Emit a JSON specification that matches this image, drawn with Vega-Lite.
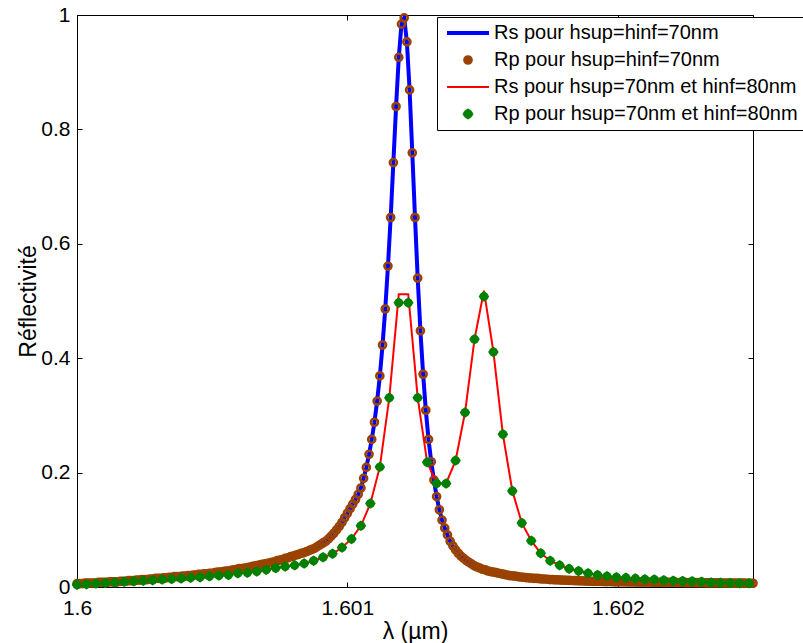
{
  "$schema": "https://vega.github.io/schema/vega-lite/v6.json",
  "width": 676,
  "height": 572,
  "autosize": {"type": "none"},
  "padding": {"left": 77, "top": 15, "right": 50, "bottom": 56},
  "background": "white",
  "config": {
    "view": {"stroke": "black", "strokeWidth": 1},
    "axis": {"grid": false, "labelFont": "Liberation Sans", "titleFont": "Liberation Sans", "labelColor": "black", "titleColor": "black", "domainColor": "black", "tickColor": "black", "titleFontWeight": "normal"},
    "legend": {"labelFont": "Liberation Sans", "labelColor": "black"}
  },
  "datasets": {
    "g1": [
      {"x":1.60000,"r":0.006},{"x":1.60001,"r":0.006},{"x":1.60002,"r":0.006},{"x":1.60003,"r":0.007},{"x":1.60004,"r":0.007},{"x":1.60005,"r":0.007},{"x":1.60006,"r":0.007},{"x":1.60007,"r":0.007},{"x":1.60008,"r":0.008},{"x":1.60009,"r":0.008},
      {"x":1.60010,"r":0.008},{"x":1.60011,"r":0.008},{"x":1.60012,"r":0.009},{"x":1.60013,"r":0.009},{"x":1.60014,"r":0.009},{"x":1.60015,"r":0.009},{"x":1.60016,"r":0.010},{"x":1.60017,"r":0.010},{"x":1.60018,"r":0.010},{"x":1.60019,"r":0.011},
      {"x":1.60020,"r":0.011},{"x":1.60021,"r":0.011},{"x":1.60022,"r":0.012},{"x":1.60023,"r":0.012},{"x":1.60024,"r":0.013},{"x":1.60025,"r":0.013},{"x":1.60026,"r":0.013},{"x":1.60027,"r":0.014},{"x":1.60028,"r":0.014},{"x":1.60029,"r":0.015},
      {"x":1.60030,"r":0.015},{"x":1.60031,"r":0.015},{"x":1.60032,"r":0.016},{"x":1.60033,"r":0.016},{"x":1.60034,"r":0.017},{"x":1.60035,"r":0.017},{"x":1.60036,"r":0.018},{"x":1.60037,"r":0.018},{"x":1.60038,"r":0.018},{"x":1.60039,"r":0.019},
      {"x":1.60040,"r":0.019},{"x":1.60041,"r":0.020},{"x":1.60042,"r":0.020},{"x":1.60043,"r":0.021},{"x":1.60044,"r":0.021},{"x":1.60045,"r":0.022},{"x":1.60046,"r":0.022},{"x":1.60047,"r":0.023},{"x":1.60048,"r":0.023},{"x":1.60049,"r":0.024},
      {"x":1.60050,"r":0.024},{"x":1.60051,"r":0.025},{"x":1.60052,"r":0.026},{"x":1.60053,"r":0.026},{"x":1.60054,"r":0.027},{"x":1.60055,"r":0.028},{"x":1.60056,"r":0.028},{"x":1.60057,"r":0.029},{"x":1.60058,"r":0.030},{"x":1.60059,"r":0.031},
      {"x":1.60060,"r":0.032},{"x":1.60061,"r":0.032},{"x":1.60062,"r":0.033},{"x":1.60063,"r":0.034},{"x":1.60064,"r":0.035},{"x":1.60065,"r":0.036},{"x":1.60066,"r":0.037},{"x":1.60067,"r":0.038},{"x":1.60068,"r":0.039},{"x":1.60069,"r":0.040},
      {"x":1.60070,"r":0.041},{"x":1.60071,"r":0.042},{"x":1.60072,"r":0.043},{"x":1.60073,"r":0.044},{"x":1.60074,"r":0.046},{"x":1.60075,"r":0.047},{"x":1.60076,"r":0.048},{"x":1.60077,"r":0.050},{"x":1.60078,"r":0.051},{"x":1.60079,"r":0.053},
      {"x":1.60080,"r":0.054},{"x":1.60081,"r":0.056},{"x":1.60082,"r":0.057},{"x":1.60083,"r":0.059},{"x":1.60084,"r":0.060},{"x":1.60085,"r":0.062},{"x":1.60086,"r":0.064},{"x":1.60087,"r":0.066},{"x":1.60088,"r":0.068},{"x":1.60089,"r":0.071},
      {"x":1.60090,"r":0.074},{"x":1.60091,"r":0.077},{"x":1.60092,"r":0.080},{"x":1.60093,"r":0.084},{"x":1.60094,"r":0.089},{"x":1.60095,"r":0.094},{"x":1.60096,"r":0.100},{"x":1.60097,"r":0.106},{"x":1.60098,"r":0.113},{"x":1.60099,"r":0.121},
      {"x":1.60100,"r":0.129},{"x":1.60101,"r":0.137},{"x":1.60102,"r":0.145},{"x":1.60103,"r":0.153},{"x":1.60104,"r":0.162},{"x":1.60105,"r":0.173},{"x":1.60106,"r":0.190},{"x":1.60107,"r":0.209},{"x":1.60108,"r":0.232},{"x":1.60109,"r":0.258},
      {"x":1.60110,"r":0.288},{"x":1.60111,"r":0.325},{"x":1.60112,"r":0.369},{"x":1.60113,"r":0.423},{"x":1.60114,"r":0.486},{"x":1.60115,"r":0.561},{"x":1.60116,"r":0.646},{"x":1.60117,"r":0.742},{"x":1.60118,"r":0.840},{"x":1.60119,"r":0.926},
      {"x":1.60120,"r":0.984},{"x":1.60121,"r":0.995},{"x":1.60122,"r":0.953},{"x":1.60123,"r":0.869},{"x":1.60124,"r":0.759},{"x":1.60125,"r":0.646},{"x":1.60126,"r":0.540},{"x":1.60127,"r":0.448},{"x":1.60128,"r":0.372},{"x":1.60129,"r":0.309},
      {"x":1.60130,"r":0.258},{"x":1.60131,"r":0.219},{"x":1.60132,"r":0.187},{"x":1.60133,"r":0.158},{"x":1.60134,"r":0.135},{"x":1.60135,"r":0.117},{"x":1.60136,"r":0.103},{"x":1.60137,"r":0.091},{"x":1.60138,"r":0.080},{"x":1.60139,"r":0.072},
      {"x":1.60140,"r":0.065},{"x":1.60141,"r":0.059},{"x":1.60142,"r":0.054},{"x":1.60143,"r":0.050},{"x":1.60144,"r":0.046},{"x":1.60145,"r":0.043},{"x":1.60146,"r":0.040},{"x":1.60147,"r":0.037},{"x":1.60148,"r":0.035},{"x":1.60149,"r":0.033},
      {"x":1.60150,"r":0.031},{"x":1.60151,"r":0.030},{"x":1.60152,"r":0.028},{"x":1.60153,"r":0.027},{"x":1.60154,"r":0.026},{"x":1.60155,"r":0.025},{"x":1.60156,"r":0.024},{"x":1.60157,"r":0.023},{"x":1.60158,"r":0.022},{"x":1.60159,"r":0.021},
      {"x":1.60160,"r":0.020},{"x":1.60161,"r":0.0195},{"x":1.60162,"r":0.019},{"x":1.60163,"r":0.018},{"x":1.60164,"r":0.0175},{"x":1.60165,"r":0.017},{"x":1.60166,"r":0.0165},{"x":1.60167,"r":0.016},{"x":1.60168,"r":0.0155},{"x":1.60169,"r":0.015},
      {"x":1.60170,"r":0.015},{"x":1.60171,"r":0.0145},{"x":1.60172,"r":0.014},{"x":1.60173,"r":0.014},{"x":1.60174,"r":0.0135},{"x":1.60175,"r":0.013},{"x":1.60176,"r":0.013},{"x":1.60177,"r":0.0125},{"x":1.60178,"r":0.0125},{"x":1.60179,"r":0.012},
      {"x":1.60180,"r":0.012},{"x":1.60181,"r":0.0118},{"x":1.60182,"r":0.0116},{"x":1.60183,"r":0.0114},{"x":1.60184,"r":0.0112},{"x":1.60185,"r":0.011},{"x":1.60186,"r":0.0108},{"x":1.60187,"r":0.0106},{"x":1.60188,"r":0.0104},{"x":1.60189,"r":0.0102},
      {"x":1.60190,"r":0.010},{"x":1.60191,"r":0.0099},{"x":1.60192,"r":0.0098},{"x":1.60193,"r":0.0097},{"x":1.60194,"r":0.0096},{"x":1.60195,"r":0.0095},{"x":1.60196,"r":0.0094},{"x":1.60197,"r":0.0093},{"x":1.60198,"r":0.0092},{"x":1.60199,"r":0.0091},
      {"x":1.60200,"r":0.009},{"x":1.60201,"r":0.00895},{"x":1.60202,"r":0.0089},{"x":1.60203,"r":0.00885},{"x":1.60204,"r":0.0088},{"x":1.60205,"r":0.00875},{"x":1.60206,"r":0.0087},{"x":1.60207,"r":0.00865},{"x":1.60208,"r":0.0086},{"x":1.60209,"r":0.00855},
      {"x":1.60210,"r":0.0085},{"x":1.60211,"r":0.00845},{"x":1.60212,"r":0.0084},{"x":1.60213,"r":0.00835},{"x":1.60214,"r":0.0083},{"x":1.60215,"r":0.00825},{"x":1.60216,"r":0.0082},{"x":1.60217,"r":0.00815},{"x":1.60218,"r":0.0081},{"x":1.60219,"r":0.00805},
      {"x":1.60220,"r":0.008},{"x":1.60221,"r":0.00795},{"x":1.60222,"r":0.0079},{"x":1.60223,"r":0.00785},{"x":1.60224,"r":0.0078},{"x":1.60225,"r":0.00775},{"x":1.60226,"r":0.0077},{"x":1.60227,"r":0.00765},{"x":1.60228,"r":0.0076},{"x":1.60229,"r":0.00755},
      {"x":1.60230,"r":0.0075},{"x":1.60231,"r":0.00745},{"x":1.60232,"r":0.0074},{"x":1.60233,"r":0.00735},{"x":1.60234,"r":0.0073},{"x":1.60235,"r":0.00725},{"x":1.60236,"r":0.0072},{"x":1.60237,"r":0.00715},{"x":1.60238,"r":0.0071},{"x":1.60239,"r":0.00705},
      {"x":1.60240,"r":0.007},{"x":1.60241,"r":0.00695},{"x":1.60242,"r":0.0069},{"x":1.60243,"r":0.00685},{"x":1.60244,"r":0.0068},{"x":1.60245,"r":0.00675},{"x":1.60246,"r":0.0067},{"x":1.60247,"r":0.00665},{"x":1.60248,"r":0.0066},{"x":1.60249,"r":0.00655},
      {"x":1.60250,"r":0.0065}
    ],
    "g2": [
      {"x":1.600000,"s":0.004,"p":0.004},{"x":1.600035,"s":0.005,"p":0.005},{"x":1.600070,"s":0.006,"p":0.006},{"x":1.600105,"s":0.007,"p":0.007},{"x":1.600140,"s":0.008,"p":0.008},
      {"x":1.600175,"s":0.009,"p":0.009},{"x":1.600210,"s":0.010,"p":0.010},{"x":1.600245,"s":0.011,"p":0.011},{"x":1.600280,"s":0.012,"p":0.012},{"x":1.600315,"s":0.013,"p":0.013},
      {"x":1.600350,"s":0.014,"p":0.014},{"x":1.600385,"s":0.015,"p":0.015},{"x":1.600420,"s":0.016,"p":0.016},{"x":1.600455,"s":0.017,"p":0.017},{"x":1.600490,"s":0.019,"p":0.019},
      {"x":1.600525,"s":0.020,"p":0.020},{"x":1.600560,"s":0.021,"p":0.021},{"x":1.600595,"s":0.024,"p":0.024},{"x":1.600630,"s":0.025,"p":0.025},{"x":1.600665,"s":0.027,"p":0.027},
      {"x":1.600700,"s":0.030,"p":0.030},{"x":1.600735,"s":0.033,"p":0.033},{"x":1.600770,"s":0.036,"p":0.036},{"x":1.600805,"s":0.038,"p":0.038},{"x":1.600840,"s":0.041,"p":0.041},
      {"x":1.600875,"s":0.046,"p":0.046},{"x":1.600910,"s":0.052,"p":0.052},{"x":1.600945,"s":0.058,"p":0.058},{"x":1.600980,"s":0.069,"p":0.069},{"x":1.601015,"s":0.084,"p":0.084},
      {"x":1.601050,"s":0.107,"p":0.107},{"x":1.601085,"s":0.146,"p":0.146},{"x":1.601120,"s":0.210,"p":0.210},{"x":1.601155,"s":0.331,"p":0.331},{"x":1.601190,"s":0.512,"p":0.497},
      {"x":1.601225,"s":0.512,"p":0.497},{"x":1.601260,"s":0.331,"p":0.331},{"x":1.601295,"s":0.218,"p":0.218},{"x":1.601330,"s":0.181,"p":0.181},{"x":1.601365,"s":0.181,"p":0.181},
      {"x":1.601400,"s":0.221,"p":0.221},{"x":1.601435,"s":0.305,"p":0.305},{"x":1.601470,"s":0.433,"p":0.433},{"x":1.601505,"s":0.518,"p":0.508},{"x":1.601540,"s":0.411,"p":0.411},
      {"x":1.601575,"s":0.267,"p":0.267},{"x":1.601610,"s":0.168,"p":0.168},{"x":1.601645,"s":0.112,"p":0.112},{"x":1.601680,"s":0.081,"p":0.081},{"x":1.601715,"s":0.059,"p":0.059},
      {"x":1.601750,"s":0.046,"p":0.046},{"x":1.601785,"s":0.038,"p":0.038},{"x":1.601820,"s":0.032,"p":0.032},{"x":1.601855,"s":0.028,"p":0.028},{"x":1.601890,"s":0.024,"p":0.024},
      {"x":1.601925,"s":0.021,"p":0.021},{"x":1.601960,"s":0.019,"p":0.019},{"x":1.601995,"s":0.017,"p":0.017},{"x":1.602030,"s":0.016,"p":0.016},{"x":1.602065,"s":0.015,"p":0.015},
      {"x":1.602100,"s":0.0135,"p":0.0135},{"x":1.602135,"s":0.013,"p":0.013},{"x":1.602170,"s":0.012,"p":0.012},{"x":1.602205,"s":0.011,"p":0.011},{"x":1.602240,"s":0.0105,"p":0.0105},
      {"x":1.602275,"s":0.010,"p":0.010},{"x":1.602310,"s":0.009,"p":0.009},{"x":1.602345,"s":0.008,"p":0.008},{"x":1.602380,"s":0.0075,"p":0.0075},{"x":1.602415,"s":0.007,"p":0.007},
      {"x":1.602450,"s":0.0065,"p":0.0065},{"x":1.602485,"s":0.0065,"p":0.0065}
    ]
  },
  "resolve": {"axis": {"x": "independent", "y": "independent"}},
  "layer": [
    {
      "data": {"name": "g1"},
      "mark": {"type": "line", "strokeWidth": 4, "clip": true},
      "encoding": {
        "x": {"field": "x", "type": "quantitative", "scale": {"domain": [1.6, 1.6025], "nice": false, "zero": false},
              "axis": {"orient": "bottom", "values": [1.6, 1.601, 1.602], "format": "~g", "title": "λ (µm)", "tickSize": -5, "labelPadding": 15, "labelFontSize": 21, "titleFontSize": 23, "titlePadding": 2, "labelFlush": false}},
        "y": {"field": "r", "type": "quantitative", "scale": {"domain": [0, 1], "nice": false},
              "axis": {"orient": "left", "values": [0, 0.2, 0.4, 0.6, 0.8, 1], "format": "~g", "title": "Réflectivité", "tickSize": -5, "labelPadding": 12, "labelFontSize": 21, "titleFontSize": 23, "titlePadding": 0}},
        "color": {
          "datum": "Rs pour hsup=hinf=70nm",
          "scale": {"domain": ["Rs pour hsup=hinf=70nm", "Rp pour hsup=hinf=70nm", "Rs pour hsup=70nm et hinf=80nm", "Rp pour hsup=70nm et hinf=80nm"], "range": ["#0000ff", "#9a4300", "#ff0000", "#008000"]},
          "legend": {
            "orient": "none", "legendX": 360, "legendY": 2, "title": null,
            "fillColor": "white", "strokeColor": "black", "padding": 6,
            "labelFontSize": 20, "labelLimit": 0, "rowPadding": 7,
            "symbolSize": 100, "symbolStrokeWidth": 1, "symbolOffset": 15, "labelOffset": 16,
            "encode": {
              "symbols": {
                "update": {
                  "shape": {"signal": "datum.value == 'Rp pour hsup=hinf=70nm' ? 'circle' : (datum.value == 'Rp pour hsup=70nm et hinf=80nm' ? 'M0,-1L0.62,-0.62L1,0L0.62,0.62L0,1L-0.62,0.62L-1,0L-0.62,-0.62Z' : 'M-4.2,0L4.2,0')"},
                  "size": {"signal": "datum.value == 'Rp pour hsup=hinf=70nm' ? 50 : (datum.value == 'Rp pour hsup=70nm et hinf=80nm' ? 110 : 100)"},
                  "fill": {"signal": "datum.value == 'Rp pour hsup=70nm et hinf=80nm' ? '#008000' : 'transparent'"},
                  "stroke": {"signal": "datum.value == 'Rs pour hsup=hinf=70nm' ? '#0000ff' : (datum.value == 'Rp pour hsup=hinf=70nm' ? '#9a4300' : (datum.value == 'Rs pour hsup=70nm et hinf=80nm' ? '#ff0000' : '#008000'))"},
                  "strokeWidth": {"signal": "datum.value == 'Rs pour hsup=hinf=70nm' ? 4 : (datum.value == 'Rp pour hsup=hinf=70nm' ? 2.6 : (datum.value == 'Rs pour hsup=70nm et hinf=80nm' ? 2 : 0.5))"},
                  "opacity": {"value": 1}
                }
              }
            }
          }
        }
      }
    },
    {
      "data": {"name": "g1"},
      "mark": {"type": "point", "shape": "circle", "filled": false, "fill": "transparent", "size": 50, "strokeWidth": 2.6, "opacity": 1},
      "encoding": {
        "x": {"field": "x", "type": "quantitative", "axis": null},
        "y": {"field": "r", "type": "quantitative", "axis": null},
        "color": {"datum": "Rp pour hsup=hinf=70nm", "legend": null}
      }
    },
    {
      "data": {"name": "g2"},
      "mark": {"type": "line", "strokeWidth": 2},
      "encoding": {
        "x": {"field": "x", "type": "quantitative", "axis": null},
        "y": {"field": "s", "type": "quantitative", "axis": null},
        "color": {"datum": "Rs pour hsup=70nm et hinf=80nm", "legend": null}
      }
    },
    {
      "data": {"name": "g2"},
      "mark": {"type": "point", "shape": "M0,-1L0.62,-0.62L1,0L0.62,0.62L0,1L-0.62,0.62L-1,0L-0.62,-0.62Z", "filled": true, "size": 110, "opacity": 1, "strokeWidth": 0},
      "encoding": {
        "x": {"field": "x", "type": "quantitative",
              "axis": {"orient": "top", "values": [1.6, 1.601, 1.602], "labels": false, "title": null, "tickSize": -5, "domain": false}},
        "y": {"field": "p", "type": "quantitative",
              "axis": {"orient": "right", "values": [0, 0.2, 0.4, 0.6, 0.8, 1], "labels": false, "title": null, "tickSize": -5, "domain": false}},
        "color": {"datum": "Rp pour hsup=70nm et hinf=80nm", "legend": null}
      }
    }
  ]
}
